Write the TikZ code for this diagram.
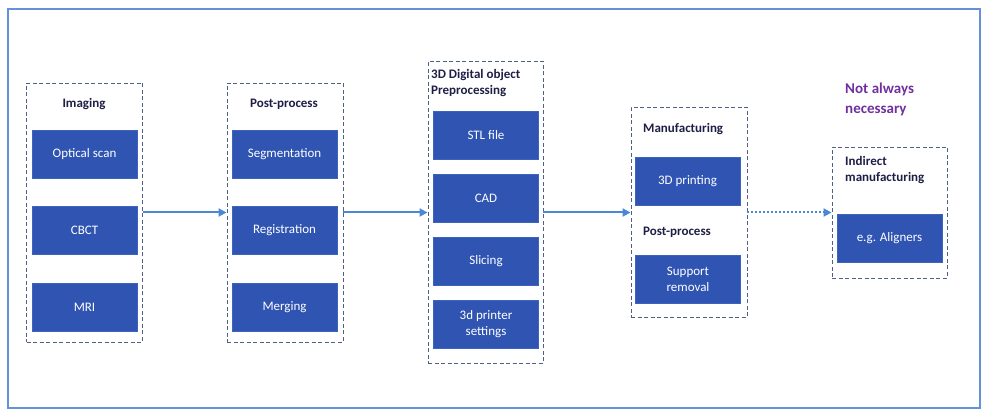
\documentclass[tikz,border=0pt]{standalone}
\usepackage{fontspec}
\setmainfont{Carlito}
\usetikzlibrary{arrows.meta}
\definecolor{boxblue}{RGB}{47,84,178}
\definecolor{boxedge}{RGB}{60,100,190}
\definecolor{grpedge}{RGB}{80,96,130}
\definecolor{flowblue}{RGB}{75,135,212}
\definecolor{framebl}{RGB}{100,145,215}
\definecolor{titlenavy}{RGB}{30,30,70}
\definecolor{notepurple}{RGB}{112,48,160}
\tikzset{
  stepbox/.style={draw=boxedge, line width=0.8pt, fill=boxblue, text=white,
    minimum width=105pt, minimum height=48pt, inner sep=2pt, align=center,
    font=\fontsize{13}{16}\selectfont},
  group/.style={draw=grpedge, line width=0.9pt, dash pattern=on 4pt off 2.5pt, inner sep=0pt},
  grptitle/.style={text=titlenavy, font=\bfseries\fontsize{13}{16}\selectfont, align=left, inner sep=0pt},
  flow/.style={draw=flowblue, line width=2pt, -{Triangle[length=8pt,width=8pt]}},
}
\begin{document}
\begin{tikzpicture}[x=1pt,y=-1pt]
\useasboundingbox (0,0) rectangle (988,411);
\draw[framebl, line width=1.4pt] (8,9) rectangle (980,408);

% Imaging
\node[group, minimum width=116pt, minimum height=259pt] (g1) at (84.5,212.5) {};
\node[grptitle] (t1) at (84,104) {Imaging};
\node[stepbox] (optical) at (84.5,154) {Optical scan};
\node[stepbox] (cbct) at (84.5,230.5) {CBCT};
\node[stepbox] (mri) at (84.5,307) {MRI};

% Post-process
\node[group, minimum width=116pt, minimum height=259pt] (g2) at (285,212.5) {};
\node[grptitle] (t2) at (284,104) {Post-process};
\node[stepbox] (seg) at (284.5,154) {Segmentation};
\node[stepbox] (reg) at (284.5,230.5) {Registration};
\node[stepbox] (merge) at (284.5,307) {Merging};

% 3D digital object preprocessing
\node[group, minimum width=115pt, minimum height=302pt] (g3) at (485.5,212.5) {};
\node[grptitle, anchor=west] (t3) at (431,83.5) {3D Digital object\\Preprocessing};
\node[stepbox] (stl) at (486,135) {STL file};
\node[stepbox] (cad) at (486,198.5) {CAD};
\node[stepbox] (slice) at (486,261.5) {Slicing};
\node[stepbox] (settings) at (486,324.5) {3d printer\\settings};

% Manufacturing
\node[group, minimum width=116pt, minimum height=210pt] (g4) at (689,212.5) {};
\node[grptitle, anchor=west] (t4) at (643,129) {Manufacturing};
\node[stepbox] (print) at (687.5,181.5) {3D printing};
\node[grptitle, anchor=west] (t5) at (643,232) {Post-process};
\node[stepbox] (support) at (688,279.5) {Support\\removal};

% Indirect manufacturing
\node[group, minimum width=115pt, minimum height=131pt] (g5) at (889.5,212.5) {};
\node[grptitle, anchor=west] (t6) at (845,170) {Indirect\\manufacturing};
\node[stepbox] (align) at (889.5,238.5) {e.g. Aligners};

\node[text=notepurple, font=\bfseries\fontsize{15}{20}\selectfont, align=left, anchor=west, inner sep=0pt] (note) at (845,99) {Not always\\necessary};

% connectors between stages
\draw[flow] (g1.east) -- (g2.west);
\draw[flow] (g2.east) -- (g3.west);
\draw[flow] (g3.east) -- (g4.west);
\draw[draw=flowblue, line width=2pt, dash pattern=on 2pt off 2pt, -{Triangle[length=8pt,width=8pt]}] (g4.east) -- (g5.west);
\end{tikzpicture}
\end{document}
